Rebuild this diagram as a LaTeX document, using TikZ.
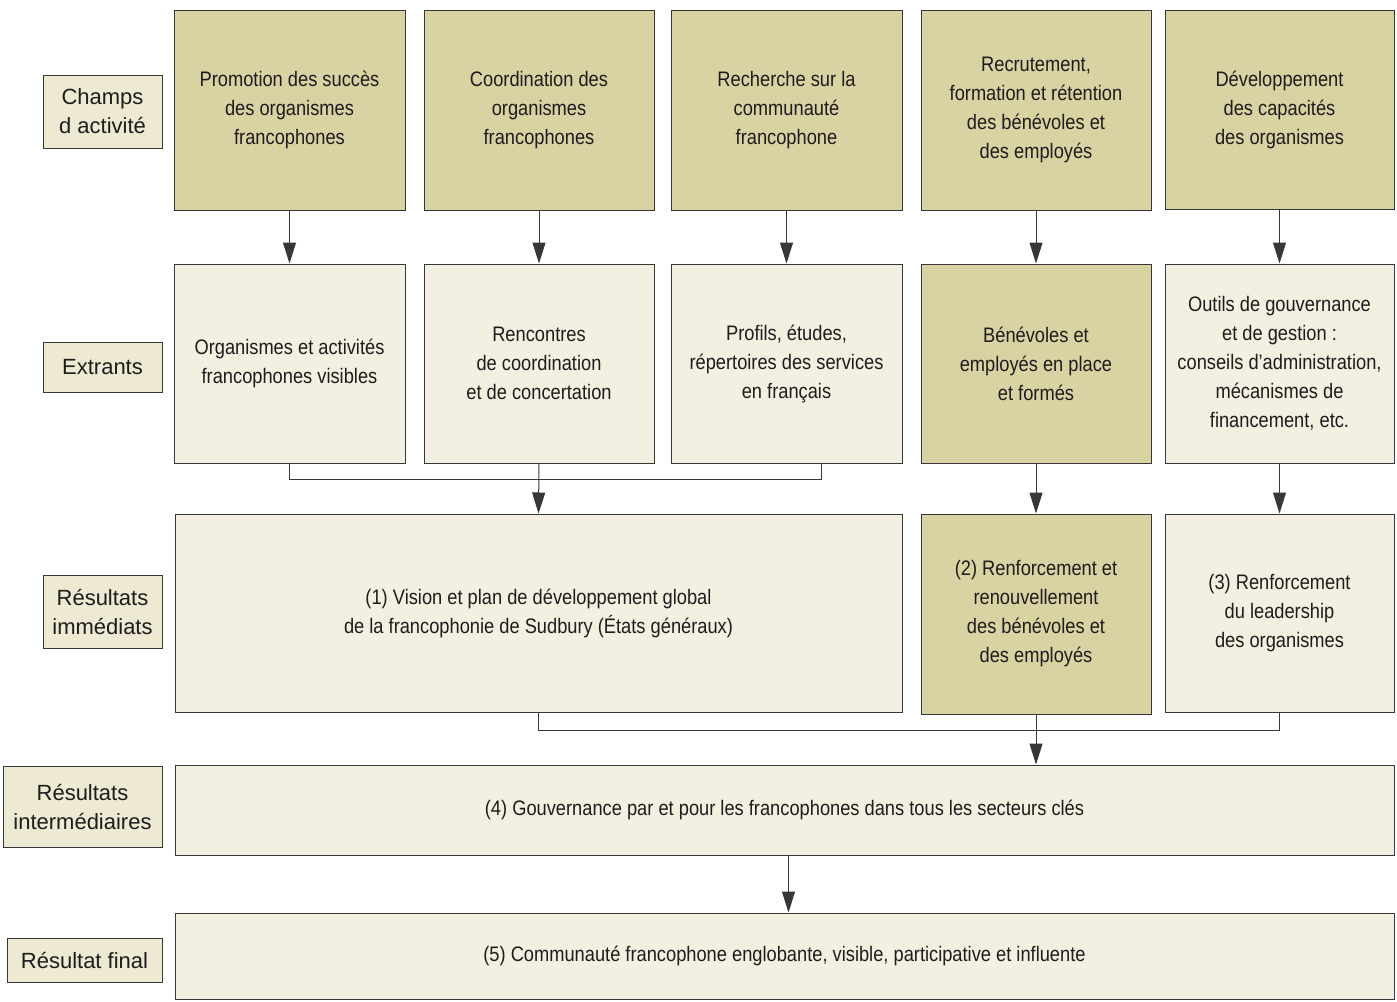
\documentclass[tikz,border=0pt]{standalone}
\usepackage{fontspec}
\setmainfont{Liberation Sans}
\newfontfamily\condfont[FakeStretch=0.87]{Liberation Sans}
\usetikzlibrary{arrows.meta}
\definecolor{darkfill}{RGB}{217,211,163}
\definecolor{lightfill}{RGB}{243,240,226}
\definecolor{labfill}{RGB}{237,233,211}
\definecolor{edge}{RGB}{55,55,55}
\definecolor{txt}{RGB}{30,28,28}
\tikzset{
  box/.style={draw=edge, line width=1pt, rectangle, align=center, text=txt,
    font=\condfont\fontsize{21}{29}\selectfont, inner sep=0pt},
  dbox/.style={box, fill=darkfill},
  lbox/.style={box, fill=lightfill},
  labbox/.style={draw=edge, line width=1pt, rectangle, align=center, fill=labfill, text=txt,
    font=\fontsize{22}{29}\selectfont, inner sep=0pt},
  conn/.style={draw=edge, line width=1pt},
  arr/.style={conn, -{Triangle[length=21pt,width=13pt]}},
}
\newcommand{\boxat}[7]{% style, name, x1, y1, x2, y2, text
  \node[#1, minimum width={#5-#3}, minimum height={#6-#4}] (#2) at ({(#3+#5)/2},{(#4+#6)/2}) {#7};}
\begin{document}
\begin{tikzpicture}[x=1pt,y=-1pt]
\useasboundingbox (0,0) rectangle (1397,1001);
% left labels
\boxat{labbox}{l1}{43}{75}{162}{148}{Champs\\d activité}
\boxat{labbox}{l2}{43}{342}{162}{392}{Extrants}
\boxat{labbox}{l3}{43}{575}{162}{648}{Résultats\\immédiats}
\boxat{labbox}{l4}{3}{766}{162}{847}{Résultats\\intermédiaires}
\boxat{labbox}{l5}{7}{938}{162}{982}{Résultat final}
% row 1
\boxat{dbox}{c1}{174}{10}{405}{210}{Promotion des succès\\des organismes\\francophones}
\boxat{dbox}{c2}{424}{10}{654}{210}{Coordination des\\organismes\\francophones}
\boxat{dbox}{c3}{671}{10}{902}{210}{Recherche sur la\\communauté\\francophone}
\boxat{dbox}{c4}{921}{10}{1151}{210}{Recrutement,\\formation et rétention\\des bénévoles et\\des employés}
\boxat{dbox}{c5}{1165}{10}{1394}{209}{Développement\\des capacités\\des organismes}
% row 2
\boxat{lbox}{e1}{174}{264}{405}{463}{Organismes et activités\\francophones visibles}
\boxat{lbox}{e2}{424}{264}{654}{463}{Rencontres\\de coordination\\et de concertation}
\boxat{lbox}{e3}{671}{264}{902}{463}{Profils, études,\\répertoires des services\\en français}
\boxat{dbox}{e4}{921}{264}{1151}{463}{Bénévoles et\\employés en place\\et formés}
\boxat{lbox}{e5}{1165}{264}{1394}{463}{Outils de gouvernance\\et de gestion :\\conseils d’administration,\\mécanismes de\\financement, etc.}
% row 3
\boxat{lbox}{r1}{175}{514}{902}{712}{(1) Vision et plan de développement global\\de la francophonie de Sudbury (États généraux)}
\boxat{dbox}{r2}{921}{514}{1151}{714}{(2) Renforcement et\\renouvellement\\des bénévoles et\\des employés}
\boxat{lbox}{r3}{1165}{514}{1394}{712}{(3) Renforcement\\du leadership\\des organismes}
% row 4 and 5
\boxat{lbox}{r4}{175}{765}{1394}{855}{(4) Gouvernance par et pour les francophones dans tous les secteurs clés}
\boxat{lbox}{r5}{175}{913}{1394}{999}{(5) Communauté francophone englobante, visible, participative et influente}
% connectors
\foreach \i in {1,...,5} { \draw[arr] (c\i.south) -- (e\i.north); }
\draw[conn] (e1.south) -- ++(0,16) -| ([xshift=35pt]e3.south);
\draw[arr] (e2.south) -- (r1.north);
\draw[arr] (e4.south) -- (r2.north);
\draw[arr] (e5.south) -- (r3.north);
\draw[conn] (r1.south) -- ++(0,18) -| (r3.south);
\draw[arr] (r2.south) -- (r2.south |- r4.north);
\draw[arr] ([xshift=4pt]r4.south) -- ([xshift=4pt]r5.north);
\end{tikzpicture}
\end{document}
